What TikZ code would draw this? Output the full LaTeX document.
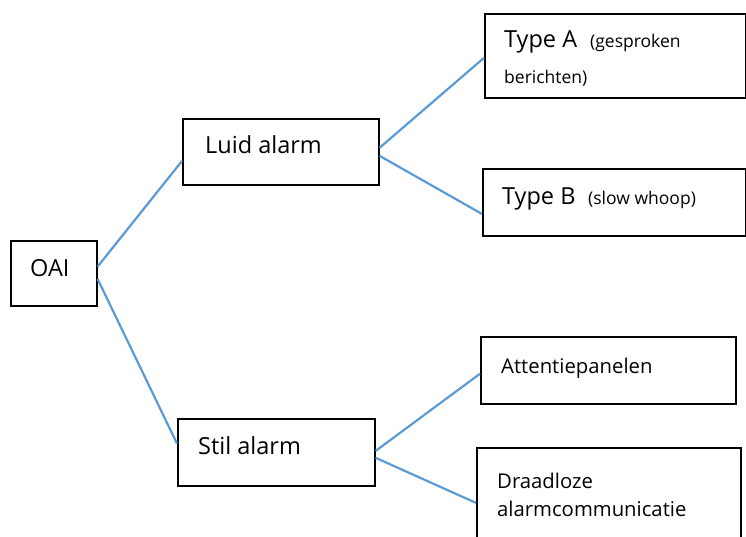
\documentclass[tikz,border=0pt]{standalone}
\usepackage{fontspec}
\setmainfont{Open Sans}
\usetikzlibrary{calc}
\begin{document}
\begin{tikzpicture}[x=1pt,y=-1pt,
  box/.style={draw=black, line width=1.6pt, rectangle, inner sep=0pt, anchor=north west},
  lbl/.style={anchor=base west, inner sep=0pt, font=\fontsize{23.5}{26}\selectfont},
  sml/.style={anchor=base west, inner sep=0pt, font=\fontsize{17.5}{20}\selectfont},
  mid/.style={anchor=base west, inner sep=0pt, font=\fontsize{20.3}{23}\selectfont},
  link/.style={draw={rgb,255:red,91;green,155;blue,213}, line width=2.2pt}]
\useasboundingbox (0,0) rectangle (746,536);
\clip (0,0) rectangle (746,536);
% boxes
\node[box, minimum width=86pt, minimum height=65pt] (oai) at (10,240) {};
\node[box, minimum width=196pt, minimum height=66pt] (luid) at (182,118) {};
\node[box, minimum width=197pt, minimum height=67pt] (stil) at (177,418) {};
\node[box, minimum width=261pt, minimum height=84pt] (typea) at (484,13) {};
\node[box, minimum width=263pt, minimum height=67pt] (typeb) at (482,168) {};
\node[box, minimum width=255pt, minimum height=67pt] (att) at (480,336) {};
\node[box, minimum width=264pt, minimum height=100pt] (draad) at (476,447) {};
% texts
\node[lbl] (toai) at (30,276) {OAI};
\node[lbl] (tluid) at (205,153) {Luid alarm};
\node[lbl] (tstil) at (198,454) {Stil alarm};
\node[lbl] (ttypea) at (504,47) {Type A};
\node[sml] (tgesp) at (590,47) {(gesproken};
\node[sml] (tber) at (504,83) {berichten)};
\node[lbl] (ttypeb) at (502,204) {Type B};
\node[sml] (tslow) at (588,204) {(slow whoop)};
\node[mid] (tatt) at (501,373) {Attentiepanelen};
\node[mid] (tdraad) at (497,488) {Draadloze};
\node[mid] (talarm) at (497,516) {alarmcommunicatie};
% connectors
\draw[link] ($(oai.north east)!0.4!(oai.south east)$) -- ($(luid.north west)!0.636!(luid.south west)$);
\draw[link] ($(oai.north east)!0.585!(oai.south east)$) -- ($(stil.north west)!0.373!(stil.south west)$);
\draw[link] ($(luid.north east)!0.44!(luid.south east)$) -- ($(typea.north west)!0.524!(typea.south west)$);
\draw[link] ($(luid.north east)!0.56!(luid.south east)$) -- ($(typeb.north west)!0.67!(typeb.south west)$);
\draw[link] ($(stil.north east)!0.48!(stil.south east)$) -- ($(att.north west)!0.55!(att.south west)$);
\draw[link] ($(stil.north east)!0.58!(stil.south east)$) -- ($(draad.north west)!0.55!(draad.south west)$);
\end{tikzpicture}
\end{document}
